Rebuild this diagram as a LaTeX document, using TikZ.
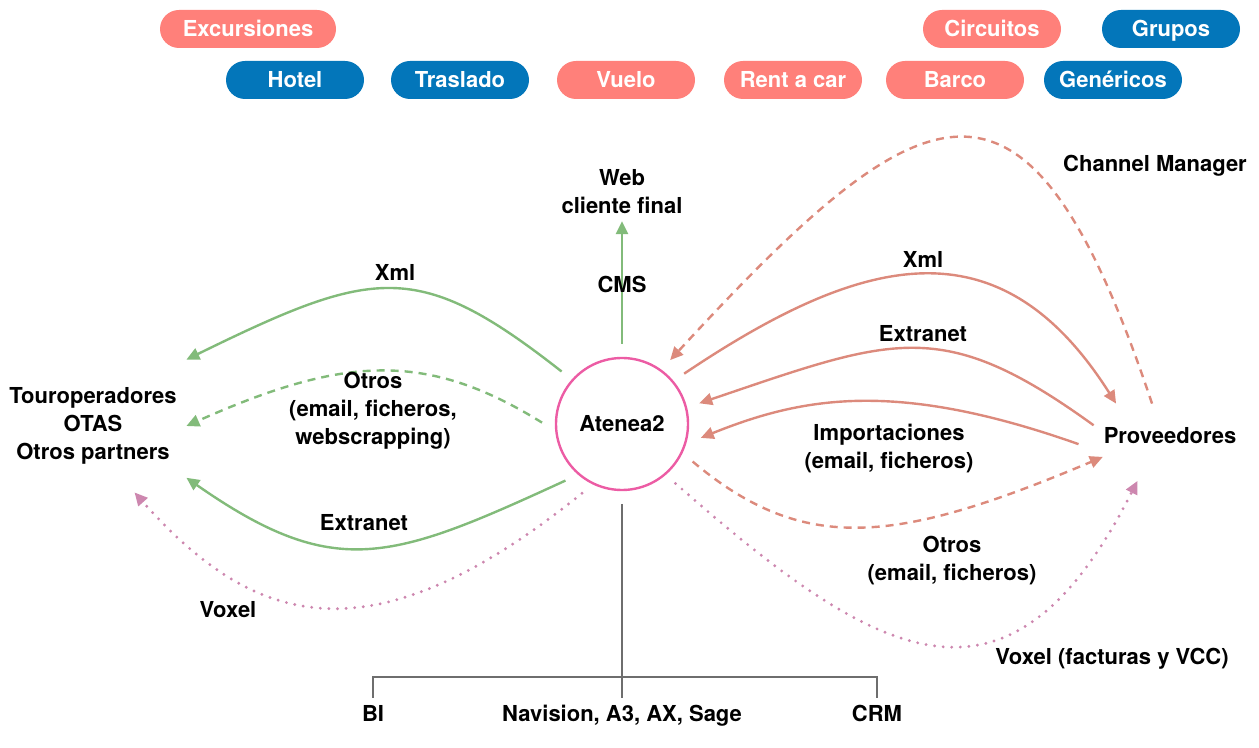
\documentclass[tikz,border=0pt]{standalone}
\usepackage{fontspec}
\setmainfont{TeX Gyre Heros}
\usepackage{tikz}
\usetikzlibrary{arrows.meta}

\definecolor{pillred}{RGB}{255,128,122}
\definecolor{pillblue}{RGB}{3,118,186}
\definecolor{linegreen}{RGB}{130,187,122}
\definecolor{linesalmon}{RGB}{220,138,124}
\definecolor{linepink}{RGB}{205,135,175}
\definecolor{ringpink}{RGB}{236,92,164}
\definecolor{bargray}{RGB}{110,110,110}

\begin{document}
\begin{tikzpicture}[x=0.5pt, y=-0.5pt]
        \tikzstyle{every node}=[font=\fontsize{11}{14}\selectfont\bfseries, align=center]
        \tikzstyle{pill}=[rounded corners=9.5pt, minimum width=69pt, minimum height=19pt, inner sep=0pt, text height=7.9pt, text depth=0pt, text=white]
        \tikzstyle{redpill}=[pill, fill=pillred]
        \tikzstyle{bluepill}=[pill, fill=pillblue]
        \tikzstyle{flow}=[line width=1.2pt, -{Triangle[length=6.5pt, width=6pt]}]
        \tikzstyle{dashflow}=[flow, dash pattern=on 4pt off 3pt]
        \tikzstyle{dotflow}=[flow, line width=1.6pt, line cap=round, dash pattern=on 0pt off 4.3pt]

        \useasboundingbox (0,0) rectangle (1259,748);

        \node[redpill, minimum width=88pt] (excursiones) at (248,29) {Excursiones};
        \node[redpill] (circuitos) at (992,29) {Circuitos};
        \node[bluepill] (grupos) at (1171,29) {Grupos};
        \node[bluepill] (hotel) at (295,80) {Hotel};
        \node[bluepill] (traslado) at (460,80) {Traslado};
        \node[redpill] (vuelo) at (626,80) {Vuelo};
        \node[redpill] (rentacar) at (793,80) {Rent a car};
        \node[redpill] (barco) at (955,80) {Barco};
        \node[bluepill] (genericos) at (1113,80) {Genéricos};

        \node[draw=ringpink, line width=1.2pt, circle, minimum size=66pt, outer sep=7pt] (atenea) at (622,424) {Atenea2};
        \node (web) at (622,192) {Web\\cliente final};
        \node[minimum width=93pt, minimum height=66pt] (tour) at (93,426) {Touroperadores\\OTAS\\Otros partners};
        \node[minimum width=76pt, minimum height=32pt] (prov) at (1170,436) {Proveedores};
        \node (channel) at (1155,166) {Channel Manager};
        \node[anchor=base] (bi) at (373,721) {BI};
        \node[anchor=base] (nav) at (622,721) {Navision, A3, AX, Sage};
        \node[anchor=base] (crm) at (877,721) {CRM};

        \draw[flow, linegreen] (atenea) -- (web);
        \draw[flow, linegreen] (atenea.139) .. controls +(-144,-113) and +(188,-92) .. (tour.north east);
        \draw[dashflow, linegreen] (atenea.179) .. controls +(-116,-72) and +(157,-70) .. (tour.east);
        \draw[flow, linegreen] (atenea.225) .. controls +(-174,80) and +(149,104) .. (tour.-29);
        \draw[dotflow, linepink] (atenea.240) .. controls +(-214,173) and +(117,132) .. (tour.-58);

        \draw[flow, linesalmon] (atenea.39) .. controls +(180,-121) and +(-116,-183) .. (prov.149);
        \draw[flow, linesalmon] (prov.172) .. controls +(-152,-110) and +(195,-66) .. (atenea.15);
        \draw[flow, linesalmon, shorten <=8pt] (prov.190) .. controls +(-198,-70) and +(102,-41) .. (atenea.-10);
        \draw[dashflow, linesalmon, shorten >=-5pt] (atenea.-28) .. controls +(111,93) and +(-199,84) .. (prov.198);
        \draw[dotflow, linepink, shorten >=7pt] (atenea.-48) .. controls +(202,178) and +(-135,267) .. (prov.231);
        \draw[dashflow, linesalmon] (prov.119) .. controls +(-124,-371) and +(258,-280) .. (atenea.53);

        \draw[bargray, line width=1pt] (atenea) -- (nav);
        \draw[bargray, line width=1pt] (bi) -- ++(0,-36) -| (crm);

        \node (cms) at (622,284) {CMS};
        \node (xmlleft) at (395,272) {Xml};
        \node (otrosleft) at (373,411) {Otros\\(email, ficheros,\\webscrapping)};
        \node (extleft) at (364,523) {Extranet};
        \node (voxleft) at (228,610) {Voxel};
        \node (xmlright) at (923,259) {Xml};
        \node (extright) at (923,334) {Extranet};
        \node (imp) at (889,449) {Importaciones\\(email, ficheros)};
        \node (otrosright) at (952,561) {Otros\\(email, ficheros)};
        \node (voxright) at (1112,659) {Voxel (facturas y VCC)};
\end{tikzpicture}
\end{document}
